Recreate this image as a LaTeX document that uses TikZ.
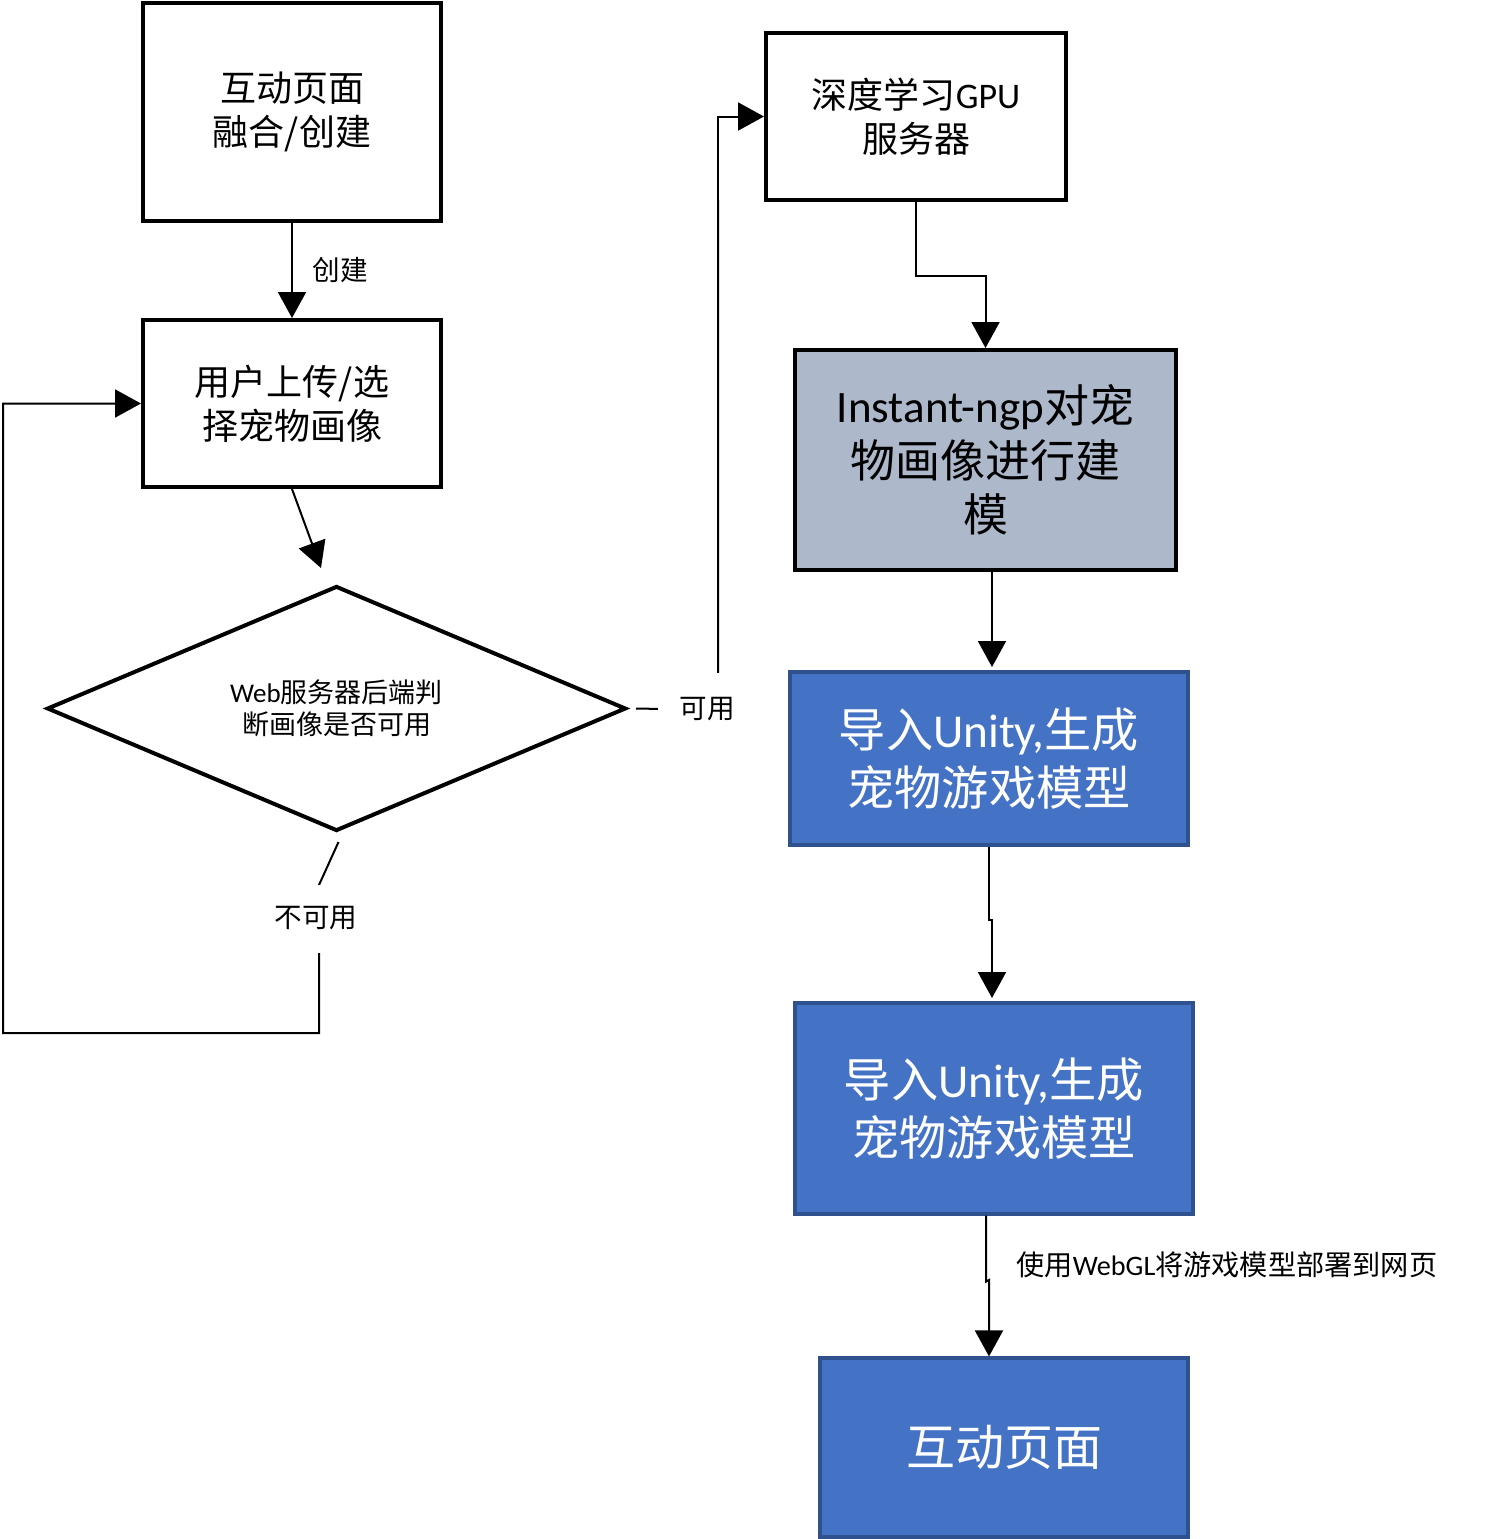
\documentclass[tikz,border=0pt]{standalone}
\usepackage{fontspec}
\setmainfont{Noto Sans CJK SC}
\newfontfamily\lat{Carlito}
\usetikzlibrary{arrows.meta,shapes.geometric}
\definecolor{grayfill}{HTML}{ADB9CA}
\definecolor{bluefill}{HTML}{4472C4}
\definecolor{blueedge}{HTML}{2F528F}
\begin{document}
\begin{tikzpicture}[x=0.5pt,y=-0.5pt,
  plainbox/.style={draw=black,line width=2pt,fill=white,inner sep=0pt,align=center,font=\fontsize{18}{21.8}\selectfont},
  graybox/.style={draw=black,line width=2pt,fill=grayfill,inner sep=0pt,align=center,font=\fontsize{22.5}{27.3}\selectfont},
  bluebox/.style={draw=blueedge,line width=1.6pt,fill=bluefill,text=white,inner sep=0pt,align=center,font=\fontsize{23.6}{29}\selectfont},
  decision/.style={diamond,aspect=2.36,draw=black,line width=2pt,fill=white,inner sep=0pt,align=center,font=\fontsize{13.5}{16}\selectfont},
  conn/.style={line width=1pt,-{Triangle[length=13pt,width=14pt]}},
  plainline/.style={line width=1pt},
  lbl/.style={font=\fontsize{13.8}{16}\selectfont,inner sep=0pt},
  whitelbl/.style={font=\fontsize{13.8}{16}\selectfont,fill=white,inner sep=0pt}
]
\useasboundingbox (0,0) rectangle (1486,1539);

\node[plainbox,minimum width=149pt,minimum height=109pt] (b1) at (292,112) {互动页面\\融合/创建};
\node[plainbox,minimum width=149pt,minimum height=83.5pt] (b2) at (292,403.5) {用户上传/选\\择宠物画像};
\node[decision,minimum width=289.5pt,minimum height=122.5pt] (dia) at (336.5,708.5) {{\lat Web}服务器后端判\\断画像是否可用};
\node[plainbox,minimum width=150pt,minimum height=83.5pt] (b3) at (916,116.5) {深度学习{\lat GPU}\\服务器};
\node[graybox,minimum width=190.5pt,minimum height=110pt] (b4) at (985.5,460) {{\lat Instant-ngp}对宠\\物画像进行建\\模};
\node[bluebox,minimum width=199pt,minimum height=86.5pt] (b5) at (989,758.5) {导入{\lat Unity,}生成\\宠物游戏模型};
\node[bluebox,minimum width=199pt,minimum height=105.5pt] (b6) at (994,1108.5) {导入{\lat Unity,}生成\\宠物游戏模型};
\node[bluebox,minimum width=184pt,minimum height=89.5pt,font=\fontsize{24.5}{29}\selectfont] (b7) at (1004,1447.5) {互动页面};

\coordinate (tdia) at (321,568);
\coordinate (t5) at (992,667);
\coordinate (t6) at (992,998);

% b1 -> b2
\draw[conn] (b1.south) -- (b2.north);
\node[lbl] (lcreate) at (340,270) {创建};

% b2 -> diamond (free end)
\draw[conn] (b2.south) -- (tdia);

% available
\draw[plainline] ([xshift=4pt]dia.east) -- (718,710) -- (718,200);
\draw[conn] (718,200) |- (b3.west);
\node[whitelbl,minimum width=49pt,minimum height=36pt] (lyes) at (707,709) {可用};

% not available
\draw[conn] ([yshift=-4.5pt,xshift=1pt]dia.south) -- (319,885) -- (319,1033) -- (3,1033) |- (b2.west);
\node[whitelbl,minimum width=45pt,minimum height=34pt] (lno) at (316,918.5) {不可用};

% b3 -> b4
\draw[conn] (b3.south) -- ++(0,74) -| (b4.north);

% b4 -> b5
\draw[conn] (b4.south -| t5) -- (t5);

% b5 -> b6
\draw[conn] (b5.south) -- (989,920) -- (992,920) -- (t6);

% b6 -> b7
\draw[conn] ([xshift=-4pt]b6.south) -- ++(0,66) -- (989,1280) -- ([xshift=-7.5pt]b7.north);
\node[lbl,anchor=west,font=\fontsize{14.1}{16}\selectfont] (lweb) at (1016,1265) {使用{\lat WebGL}将游戏模型部署到网页};
\end{tikzpicture}
\end{document}
